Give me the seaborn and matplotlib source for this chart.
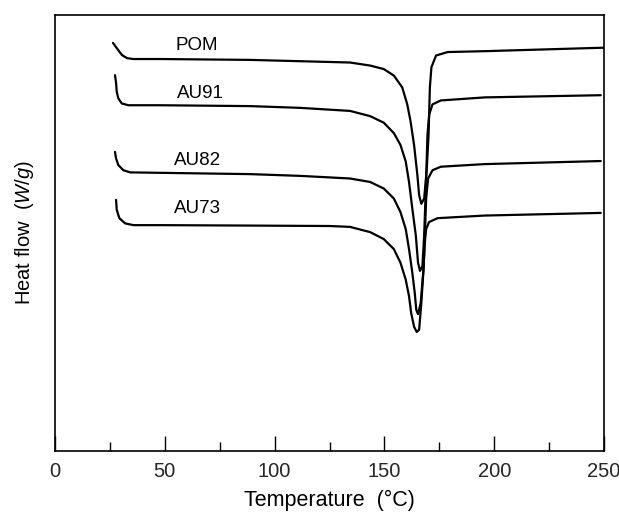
import matplotlib
matplotlib.use("Agg")
import matplotlib.pyplot as plt
import matplotlib.ticker as mticker
import numpy as np
import pandas as pd
import seaborn as sns

# DSC heating scans: temperature (°C) and heat flow (arbitrary offset units)
pom_t = [26.4, 28.7, 30.5, 32.8, 35.5, 47.8, 88.8, 134.3, 143.5, 149.7, 154.3,
         158.1, 160.4, 161.9, 163.5, 165.0, 165.8, 166.8, 168.1, 169.3, 170.1,
         170.7, 171.4, 173.5, 178.8, 195.7, 250.0]
pom_q = [93.6, 92.0, 90.8, 90.1, 89.9, 89.9, 89.7, 89.1, 88.4, 87.6, 86.1,
         83.4, 79.5, 75.6, 70.2, 63.3, 58.7, 56.7, 57.9, 64.8, 72.5,
         83.4, 88.0, 90.7, 91.5, 91.7, 92.5]

au91_t = [27.3, 27.8, 28.1, 28.8, 30.4, 33.4, 47.8, 88.8, 111.6, 134.3, 143.5,
          149.7, 154.3, 157.3, 159.7, 161.2, 162.7, 164.3, 165.3, 166.2, 167.3,
          168.1, 168.9, 169.6, 170.4, 171.9, 175.7, 195.7, 248.5]
au91_q = [86.2, 84.4, 82.4, 80.9, 79.7, 79.3, 79.3, 79.1, 78.7, 78.0, 76.8,
          75.3, 72.9, 70.2, 66.4, 61.7, 55.6, 49.4, 43.2, 41.3, 42.4,
          49.4, 61.0, 72.5, 77.2, 79.5, 80.4, 81.1, 81.6]

au82_t = [27.3, 27.8, 28.8, 31.1, 34.2, 47.8, 88.8, 111.6, 134.3, 143.5, 149.7,
          154.3, 157.3, 159.7, 161.2, 162.7, 163.8, 164.5, 165.3, 166.5, 167.8,
          168.4, 169.0, 169.9, 171.9, 175.7, 195.7, 248.5]
au82_q = [68.6, 67.1, 65.6, 64.4, 63.9, 63.8, 63.5, 63.1, 62.5, 61.7, 60.2,
          57.9, 54.8, 50.9, 46.3, 40.9, 36.3, 32.4, 31.4, 33.9, 41.7,
          49.4, 57.9, 62.5, 64.4, 65.2, 65.8, 66.5]

au73_t = [27.8, 28.1, 29.3, 31.9, 35.7, 47.8, 88.8, 125.2, 134.3, 143.5, 149.7,
          154.3, 157.3, 159.7, 161.2, 162.2, 163.5, 164.7, 165.8, 166.8, 167.8,
          168.4, 169.0, 170.3, 174.2, 195.7, 248.5]
au73_q = [57.6, 55.3, 53.4, 52.2, 51.8, 51.8, 51.7, 51.6, 51.4, 50.2, 48.6,
          46.3, 43.2, 39.3, 35.5, 31.6, 28.5, 27.3, 27.8, 33.9, 41.7,
          47.8, 50.9, 52.5, 53.4, 54.0, 54.6]

samples = ["POM", "AU91", "AU82", "AU73"]
label_pos = {"POM": (64.7, 93.1), "AU91": (66.0, 82.1),
             "AU82": (65.1, 66.7), "AU73": (64.7, 55.7)}

df = pd.concat([
    pd.DataFrame({"T": t, "Q": q, "sample": s})
    for s, t, q in zip(samples,
                       [pom_t, au91_t, au82_t, au73_t],
                       [pom_q, au91_q, au82_q, au73_q])
], ignore_index=True)

sns.set_theme(style="white")
plt.rcParams["font.family"] = ["Liberation Sans", "DejaVu Sans"]
plt.rcParams["mathtext.fontset"] = "custom"
plt.rcParams["mathtext.rm"] = "Liberation Sans"
plt.rcParams["mathtext.it"] = "Liberation Sans:italic"

fig = plt.figure(figsize=(6.19, 5.15), dpi=100)
ax = fig.add_axes([0.0889, 0.1243, 0.8869, 0.8466])

sns.lineplot(data=df, x="T", y="Q", hue="sample", units="sample",
             estimator=None, sort=False, palette=["black"] * 4,
             linewidth=1.6, legend=False, ax=ax)

for s in samples:
    x, y = label_pos[s]
    ax.text(x, y, s, ha="center", va="center", fontsize=13.5, color="black")

ax.set_xlim(0, 250)
ax.set_ylim(0, 100)
ax.xaxis.set_major_locator(mticker.MultipleLocator(50))
ax.xaxis.set_minor_locator(mticker.MultipleLocator(25))
ax.set_yticks([])
ax.tick_params(axis="x", which="major", direction="in", length=10.5,
               width=1.0, color="black", labelsize=14.5, pad=8,
               bottom=True, top=False)
ax.tick_params(axis="x", which="minor", direction="in", length=6.5,
               width=1.0, color="black", bottom=True, top=False)

for sp in ax.spines.values():
    sp.set_visible(True)
    sp.set_color("black")
    sp.set_linewidth(1.2)

ax.set_xlabel("Temperature  (°C)", fontsize=15.5, labelpad=6, color="black")
ax.set_ylabel(r"Heat flow  ($\mathit{W/g}$)", fontsize=14.5, labelpad=14,
              color="black")

fig.savefig("out.png", dpi=100, facecolor="white")
